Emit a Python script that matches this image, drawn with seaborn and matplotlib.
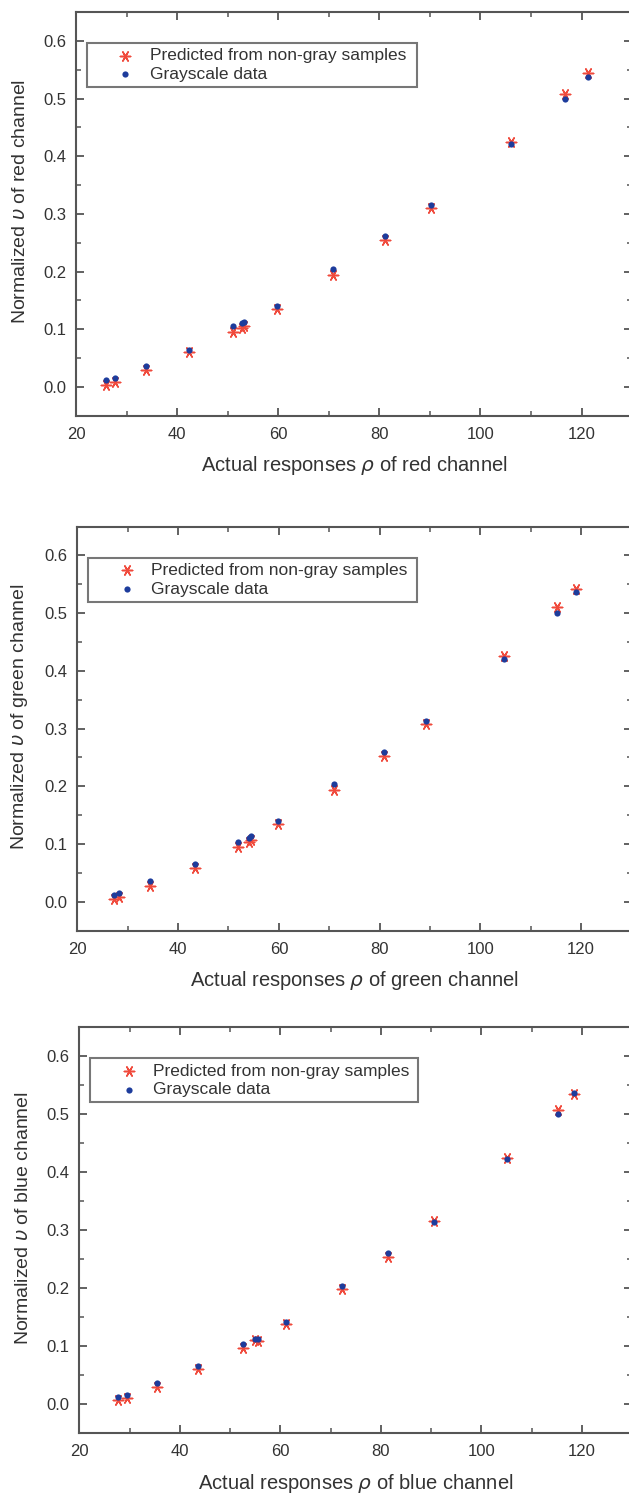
import matplotlib

matplotlib.use("Agg")
import matplotlib.pyplot as plt
import pandas as pd
import seaborn as sns
from matplotlib.ticker import MultipleLocator

# grayscale patches, measured normalized u (same patches for all channels)
gray_u = [0.012, 0.016, 0.036, 0.065, 0.104, 0.110, 0.113, 0.140, 0.204, 0.261, 0.314, 0.422, 0.500, 0.537]

# red channel
red_rho = [26.0, 27.6, 33.9, 42.4, 51.1, 52.9, 53.3, 59.8, 70.9, 81.2, 90.2, 106.1, 116.7, 121.2]
red_gray = [0.012, 0.016, 0.036, 0.065, 0.105, 0.111, 0.113, 0.141, 0.205, 0.261, 0.315, 0.422, 0.500, 0.537]
red_pred = [0.004, 0.008, 0.030, 0.060, 0.096, 0.102, 0.106, 0.136, 0.195, 0.255, 0.311, 0.425, 0.507, 0.544]

# green channel
green_rho = [27.2, 28.2, 34.5, 43.3, 51.9, 54.0, 54.4, 59.9, 70.9, 80.9, 89.3, 104.7, 115.2, 118.9]
green_gray = [0.0115, 0.015, 0.036, 0.065, 0.104, 0.110, 0.113, 0.140, 0.204, 0.260, 0.313, 0.421, 0.500, 0.537]
green_pred = [0.004, 0.0075, 0.027, 0.059, 0.095, 0.104, 0.106, 0.134, 0.193, 0.252, 0.308, 0.425, 0.510, 0.541]

# blue channel
blue_rho = [27.8, 29.5, 35.5, 43.7, 52.6, 54.9, 55.5, 61.1, 72.2, 81.5, 90.5, 105.2, 115.3, 118.5]
blue_gray = [0.0126, 0.016, 0.037, 0.065, 0.104, 0.113, 0.113, 0.142, 0.204, 0.261, 0.314, 0.422, 0.500, 0.536]
blue_pred = [0.007, 0.011, 0.030, 0.060, 0.097, 0.110, 0.109, 0.139, 0.198, 0.253, 0.316, 0.425, 0.507, 0.535]

channels = ["red", "green", "blue"]

sns.set_theme(style="ticks")
plt.rcParams["font.family"] = ["Liberation Sans", "DejaVu Sans"]
plt.rcParams["mathtext.fontset"] = "dejavusans"

SPINE = "#555555"
TEXT = "#333333"
RED = "#f04a3c"
BLUE = "#1d3c9c"

fig = plt.figure(figsize=(6.29, 14.96), dpi=100)
positions = [
    [0.121, 0.722, 0.884, 0.270],
    [0.123, 0.378, 0.881, 0.270],
    [0.126, 0.042, 0.879, 0.2715],
]
data = {
    "red": (red_rho, red_gray, red_pred),
    "green": (green_rho, green_gray, green_pred),
    "blue": (blue_rho, blue_gray, blue_pred),
}

for pos, ch in zip(positions, channels):
    ax = fig.add_axes(pos)
    rho, gray, pred = data[ch]
    df = pd.DataFrame({"rho": rho, "gray": gray, "pred": pred})
    sns.scatterplot(data=df, x="rho", y="pred", ax=ax, marker=(6, 2, 30), s=55,
                    color=RED, edgecolor=RED, linewidth=1.1,
                    label="Predicted from non-gray samples", zorder=3)
    sns.scatterplot(data=df, x="rho", y="gray", ax=ax, marker="o", s=20,
                    color=BLUE, edgecolor=BLUE, linewidth=0,
                    label="Grayscale data", zorder=4)
    ax.set_xlim(20, 130)
    ax.set_ylim(-0.05, 0.65)
    ax.xaxis.set_major_locator(MultipleLocator(20))
    ax.xaxis.set_minor_locator(MultipleLocator(10))
    ax.yaxis.set_major_locator(MultipleLocator(0.1))
    ax.yaxis.set_minor_locator(MultipleLocator(0.05))
    ax.set_xticks([20, 40, 60, 80, 100, 120])
    ax.set_yticks([0.0, 0.1, 0.2, 0.3, 0.4, 0.5, 0.6])
    ax.set_yticklabels(["0.0", "0.1", "0.2", "0.3", "0.4", "0.5", "0.6"])
    ax.tick_params(which="both", direction="in", top=True, right=True,
                   color=SPINE, labelcolor=TEXT, labelsize=12)
    ax.tick_params(which="major", length=6, width=1.3)
    ax.tick_params(which="minor", length=3.5, width=1.1)
    ax.tick_params(axis="x", which="major", pad=8)
    ax.tick_params(axis="y", which="major", pad=7)
    for sp in ax.spines.values():
        sp.set_color(SPINE)
        sp.set_linewidth(1.5)
    ax.set_xlabel(r"Actual responses $\rho$ of %s channel" % ch, fontsize=14.5, color=TEXT, labelpad=9)
    ax.set_ylabel(r"Normalized $\upsilon$ of %s channel" % ch, fontsize=14, color=TEXT)
    ax.yaxis.set_label_coords(-0.085, 0.53)
    leg = ax.legend(loc="upper left", bbox_to_anchor=(0.02, 0.817, 0.593, 0.106),
                    mode="expand", fontsize=12.5,
                    frameon=True, fancybox=False, borderpad=0.3, labelspacing=0.2,
                    handletextpad=-0.5, handlelength=3.8, borderaxespad=0)
    leg.get_frame().set_edgecolor(SPINE)
    leg.get_frame().set_linewidth(1.5)
    for t in leg.get_texts():
        t.set_color(TEXT)

plt.savefig("out.png", dpi=100)
plt.close()
